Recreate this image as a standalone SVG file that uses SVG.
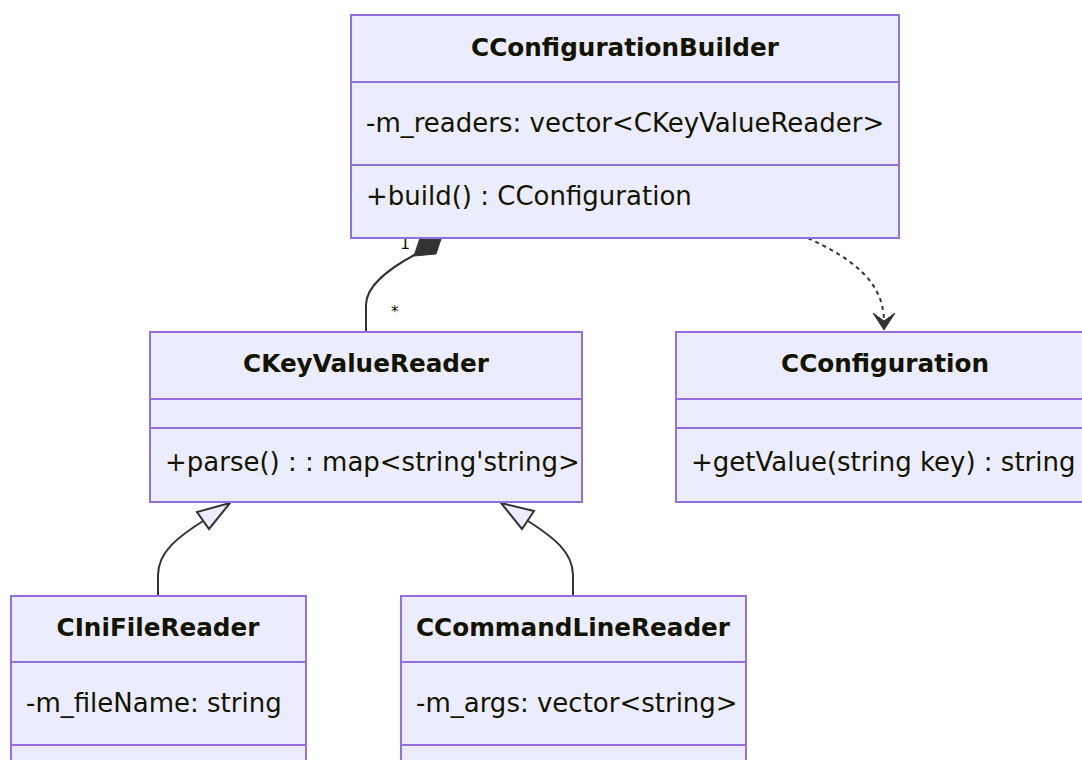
<svg xmlns="http://www.w3.org/2000/svg" width="1082" height="760" viewBox="0 0 1082 760">
  <style>
    .box { fill: #ECECFF; stroke: #9370DB; stroke-width: 2; }
    .div { stroke: #9370DB; stroke-width: 2; }
    .title { font-family: "DejaVu Sans", "Open Sans", sans-serif; font-size: 24.7px; font-weight: bold; fill: #131300; text-anchor: middle; dominant-baseline: central; }
    .member { font-family: "DejaVu Sans", "Open Sans", sans-serif; font-size: 26px; fill: #131300; dominant-baseline: central; }
    .edge { fill: none; stroke: #333333; stroke-width: 2; }
    .dashed { stroke-dasharray: 4 4; }
    .card { font-family: "DejaVu Sans", "Open Sans", sans-serif; fill: #131300; }
  </style>
  <rect width="1082" height="760" fill="#ffffff"/>

  <g id="connectors">
    <!-- composition: builder owns many key/value readers -->
    <path class="edge" d="M366,331 L366,305 C366,285 390,268 416,254"/>
    <polygon points="414,256 436,254 443,233 421,235" fill="#333333" stroke="#333333" stroke-width="1"/>
    <text class="card" x="400" y="249" font-size="16">1</text>
    <text class="card" x="391" y="317" font-size="15">*</text>

    <!-- dependency: builder creates a configuration -->
    <path class="edge dashed" d="M808,238 C850,258 884,280 884,322"/>
    <path d="M873,313 L884,330 L895,313 L884,321 Z" fill="#333333" stroke="#333333" stroke-width="1"/>

    <!-- inheritance: ini file reader -->
    <path class="edge" d="M158,595 L158,575 C158,552 178,537 203,521"/>
    <polygon points="230,503 197,512 209,529" fill="#ECECFF" stroke="#333333" stroke-width="2"/>

    <!-- inheritance: command line reader -->
    <path class="edge" d="M573,595 L573,575 C573,552 553,537 528,521"/>
    <polygon points="501,503 534,511 522,529" fill="#ECECFF" stroke="#333333" stroke-width="2"/>
  </g>

  <g id="CConfigurationBuilder">
    <rect class="box" x="351" y="15" width="548" height="223"/>
    <line class="div" x1="351" y1="82" x2="899" y2="82"/>
    <line class="div" x1="351" y1="165" x2="899" y2="165"/>
    <text class="title" x="625" y="47">CConfigurationBuilder</text>
    <text class="member" x="366" y="123">-m_readers: vector&lt;CKeyValueReader&gt;</text>
    <text class="member" x="366" y="196">+build() : CConfiguration</text>
  </g>

  <g id="CKeyValueReader">
    <rect class="box" x="150" y="332" width="432" height="170"/>
    <line class="div" x1="150" y1="399" x2="582" y2="399"/>
    <line class="div" x1="150" y1="428" x2="582" y2="428"/>
    <text class="title" x="366" y="363">CKeyValueReader</text>
    <text class="member" x="165" y="462">+parse() : : map&lt;string'string&gt;</text>
  </g>

  <g id="CConfiguration">
    <rect class="box" x="676" y="332" width="418" height="170"/>
    <line class="div" x1="676" y1="399" x2="1094" y2="399"/>
    <line class="div" x1="676" y1="428" x2="1094" y2="428"/>
    <text class="title" x="885" y="363">CConfiguration</text>
    <text class="member" x="691" y="462">+getValue(string key) : string</text>
  </g>

  <g id="CIniFileReader">
    <rect class="box" x="11" y="596" width="295" height="180"/>
    <line class="div" x1="11" y1="662" x2="306" y2="662"/>
    <line class="div" x1="11" y1="745" x2="306" y2="745"/>
    <text class="title" x="158" y="627">CIniFileReader</text>
    <text class="member" x="26" y="703">-m_fileName: string</text>
  </g>

  <g id="CCommandLineReader">
    <rect class="box" x="401" y="596" width="345" height="180"/>
    <line class="div" x1="401" y1="662" x2="746" y2="662"/>
    <line class="div" x1="401" y1="745" x2="746" y2="745"/>
    <text class="title" x="573" y="627">CCommandLineReader</text>
    <text class="member" x="416" y="703">-m_args: vector&lt;string&gt;</text>
  </g>
</svg>
